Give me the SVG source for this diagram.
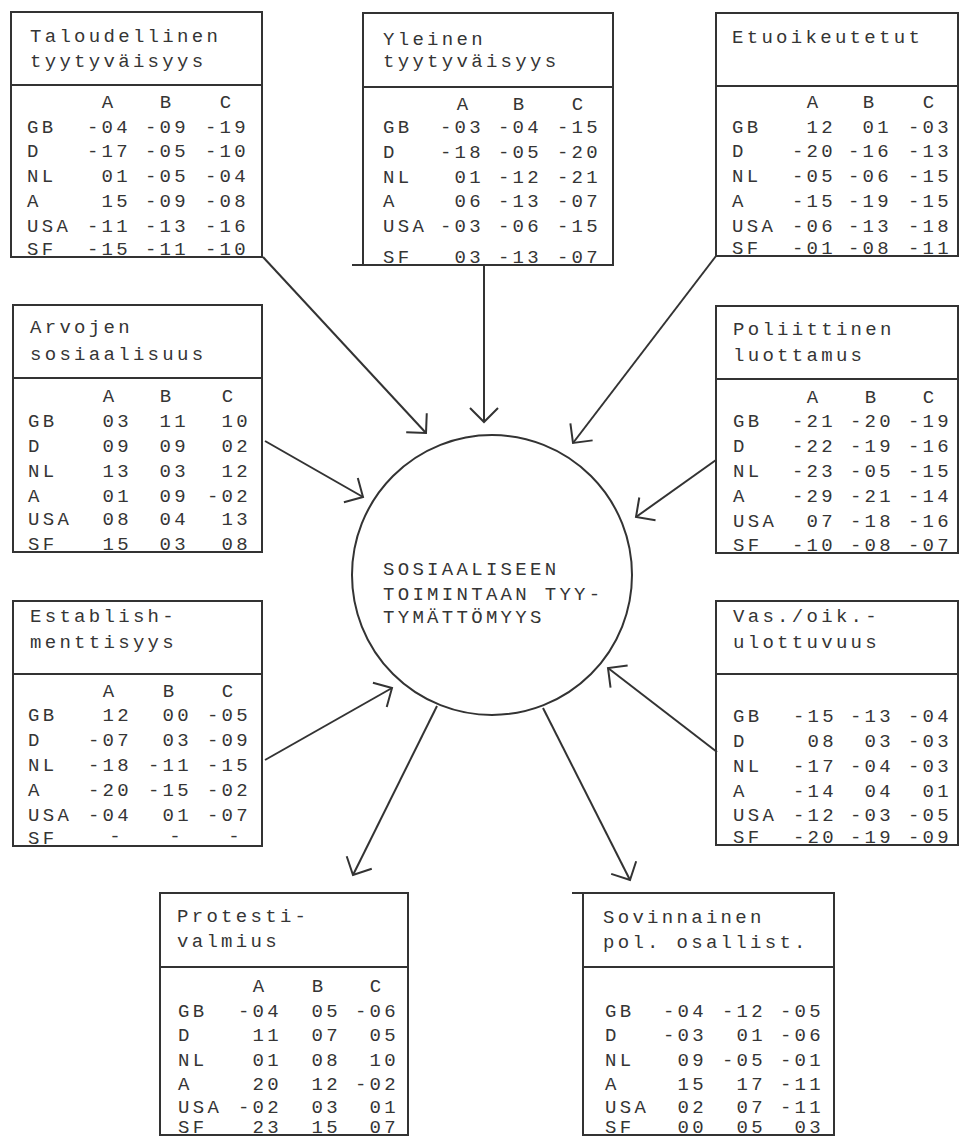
<svg xmlns="http://www.w3.org/2000/svg" width="961" height="1137" viewBox="0 0 961 1137">
<style>
.b{fill:none;stroke:#333;stroke-width:2}
.t{font-family:"Liberation Mono",monospace;font-size:19px;letter-spacing:3.3px;fill:#353535}
.n{text-anchor:end}
.h{text-anchor:middle}
.c{fill:none;stroke:#333;stroke-width:2;marker-end:url(#ah)}
</style>
<defs>
<marker id="ah" markerUnits="userSpaceOnUse" viewBox="-16 -16 18 32" markerWidth="18" markerHeight="32" refX="0" refY="0" orient="auto" overflow="visible">
<path d="M-14,-14 L0,0 L-14,14" fill="none" stroke="#333" stroke-width="2"/>
</marker>
</defs>

<g id="connectors">
<path class="c" d="M263,257 L426,433"/>
<path class="c" d="M484,265 L484,422"/>
<path class="c" d="M716,256 L573,443"/>
<path class="c" d="M265,441 L363,497"/>
<path class="c" d="M716,460 L636,517"/>
<path class="c" d="M265,760 L392,688"/>
<path class="c" d="M717,752 L608,668"/>
<path class="c" d="M437,706 L353,875"/>
<path class="c" d="M543,708 L630,880"/>
</g>

<g id="center">
<circle class="b" cx="492" cy="575" r="140"/>
<text class="t" x="383" y="575">SOSIAALISEEN</text>
<text class="t" x="383" y="600">TOIMINTAAN TYY-</text>
<text class="t" x="383" y="623">TYMÄTTÖMYYS</text>
</g>

<g id="taloudellinen" transform="translate(11,12)">
<rect class="b" x="0" y="0" width="251" height="245"/>
<line class="b" x1="0" y1="73" x2="251" y2="73"/>
<text class="t" x="19" y="30">Taloudellinen</text>
<text class="t" x="19" y="55">tyytyväisyys</text>
<text class="t h" x="98" y="96">A</text><text class="t h" x="156" y="96">B</text><text class="t h" x="216" y="96">C</text>
<text class="t" x="16" y="121">GB</text><text class="t n" x="120" y="121">-04</text><text class="t n" x="178" y="121">-09</text><text class="t n" x="238" y="121">-19</text>
<text class="t" x="16" y="145">D</text><text class="t n" x="120" y="145">-17</text><text class="t n" x="178" y="145">-05</text><text class="t n" x="238" y="145">-10</text>
<text class="t" x="16" y="170">NL</text><text class="t n" x="120" y="170">01</text><text class="t n" x="178" y="170">-05</text><text class="t n" x="238" y="170">-04</text>
<text class="t" x="16" y="195">A</text><text class="t n" x="120" y="195">15</text><text class="t n" x="178" y="195">-09</text><text class="t n" x="238" y="195">-08</text>
<text class="t" x="16" y="220">USA</text><text class="t n" x="120" y="220">-11</text><text class="t n" x="178" y="220">-13</text><text class="t n" x="238" y="220">-16</text>
<text class="t" x="16" y="243">SF</text><text class="t n" x="120" y="243">-15</text><text class="t n" x="178" y="243">-11</text><text class="t n" x="238" y="243">-10</text>
</g>

<g id="yleinen" transform="translate(363,13)">
<rect class="b" x="0" y="0" width="250" height="252"/>
<line class="b" x1="0" y1="74" x2="250" y2="74"/>
<line class="b" x1="-11" y1="252" x2="0" y2="252"/>
<text class="t" x="20" y="32">Yleinen</text>
<text class="t" x="20" y="54">tyytyväisyys</text>
<text class="t h" x="101" y="97">A</text><text class="t h" x="157" y="97">B</text><text class="t h" x="216" y="97">C</text>
<text class="t" x="20" y="120">GB</text><text class="t n" x="121" y="120">-03</text><text class="t n" x="179" y="120">-04</text><text class="t n" x="238" y="120">-15</text>
<text class="t" x="20" y="145">D</text><text class="t n" x="121" y="145">-18</text><text class="t n" x="179" y="145">-05</text><text class="t n" x="238" y="145">-20</text>
<text class="t" x="20" y="170">NL</text><text class="t n" x="121" y="170">01</text><text class="t n" x="179" y="170">-12</text><text class="t n" x="238" y="170">-21</text>
<text class="t" x="20" y="194">A</text><text class="t n" x="121" y="194">06</text><text class="t n" x="179" y="194">-13</text><text class="t n" x="238" y="194">-07</text>
<text class="t" x="20" y="219">USA</text><text class="t n" x="121" y="219">-03</text><text class="t n" x="179" y="219">-06</text><text class="t n" x="238" y="219">-15</text>
<text class="t" x="20" y="250">SF</text><text class="t n" x="121" y="250">03</text><text class="t n" x="179" y="250">-13</text><text class="t n" x="238" y="250">-07</text>
</g>

<g id="etuoikeutetut" transform="translate(716,13)">
<rect class="b" x="0" y="0" width="242" height="243"/>
<line class="b" x1="0" y1="73" x2="242" y2="73"/>
<text class="t" x="16" y="30">Etuoikeutetut</text>
<text class="t h" x="98" y="95">A</text><text class="t h" x="154" y="95">B</text><text class="t h" x="214" y="95">C</text>
<text class="t" x="16" y="120">GB</text><text class="t n" x="120" y="120">12</text><text class="t n" x="176" y="120">01</text><text class="t n" x="236" y="120">-03</text>
<text class="t" x="16" y="144">D</text><text class="t n" x="120" y="144">-20</text><text class="t n" x="176" y="144">-16</text><text class="t n" x="236" y="144">-13</text>
<text class="t" x="16" y="169">NL</text><text class="t n" x="120" y="169">-05</text><text class="t n" x="176" y="169">-06</text><text class="t n" x="236" y="169">-15</text>
<text class="t" x="16" y="194">A</text><text class="t n" x="120" y="194">-15</text><text class="t n" x="176" y="194">-19</text><text class="t n" x="236" y="194">-15</text>
<text class="t" x="16" y="219">USA</text><text class="t n" x="120" y="219">-06</text><text class="t n" x="176" y="219">-13</text><text class="t n" x="236" y="219">-18</text>
<text class="t" x="16" y="241">SF</text><text class="t n" x="120" y="241">-01</text><text class="t n" x="176" y="241">-08</text><text class="t n" x="236" y="241">-11</text>
</g>

<g id="arvojen" transform="translate(13,305)">
<rect class="b" x="0" y="0" width="249" height="247"/>
<line class="b" x1="0" y1="73" x2="249" y2="73"/>
<text class="t" x="17" y="28">Arvojen</text>
<text class="t" x="17" y="55">sosiaalisuus</text>
<text class="t h" x="97" y="97">A</text><text class="t h" x="154" y="97">B</text><text class="t h" x="216" y="97">C</text>
<text class="t" x="15" y="122">GB</text><text class="t n" x="119" y="122">03</text><text class="t n" x="176" y="122">11</text><text class="t n" x="238" y="122">10</text>
<text class="t" x="15" y="147">D</text><text class="t n" x="119" y="147">09</text><text class="t n" x="176" y="147">09</text><text class="t n" x="238" y="147">02</text>
<text class="t" x="15" y="172">NL</text><text class="t n" x="119" y="172">13</text><text class="t n" x="176" y="172">03</text><text class="t n" x="238" y="172">12</text>
<text class="t" x="15" y="197">A</text><text class="t n" x="119" y="197">01</text><text class="t n" x="176" y="197">09</text><text class="t n" x="238" y="197">-02</text>
<text class="t" x="15" y="220">USA</text><text class="t n" x="119" y="220">08</text><text class="t n" x="176" y="220">04</text><text class="t n" x="238" y="220">13</text>
<text class="t" x="15" y="245">SF</text><text class="t n" x="119" y="245">15</text><text class="t n" x="176" y="245">03</text><text class="t n" x="238" y="245">08</text>
</g>

<g id="poliittinen" transform="translate(716,306)">
<rect class="b" x="0" y="0" width="242" height="247"/>
<line class="b" x1="0" y1="73" x2="242" y2="73"/>
<text class="t" x="17" y="29">Poliittinen</text>
<text class="t" x="17" y="55">luottamus</text>
<text class="t h" x="98" y="97">A</text><text class="t h" x="156" y="97">B</text><text class="t h" x="214" y="97">C</text>
<text class="t" x="17" y="121">GB</text><text class="t n" x="120" y="121">-21</text><text class="t n" x="178" y="121">-20</text><text class="t n" x="236" y="121">-19</text>
<text class="t" x="17" y="146">D</text><text class="t n" x="120" y="146">-22</text><text class="t n" x="178" y="146">-19</text><text class="t n" x="236" y="146">-16</text>
<text class="t" x="17" y="171">NL</text><text class="t n" x="120" y="171">-23</text><text class="t n" x="178" y="171">-05</text><text class="t n" x="236" y="171">-15</text>
<text class="t" x="17" y="196">A</text><text class="t n" x="120" y="196">-29</text><text class="t n" x="178" y="196">-21</text><text class="t n" x="236" y="196">-14</text>
<text class="t" x="17" y="221">USA</text><text class="t n" x="120" y="221">07</text><text class="t n" x="178" y="221">-18</text><text class="t n" x="236" y="221">-16</text>
<text class="t" x="17" y="245">SF</text><text class="t n" x="120" y="245">-10</text><text class="t n" x="178" y="245">-08</text><text class="t n" x="236" y="245">-07</text>
</g>

<g id="establishmenttisyys" transform="translate(13,601)">
<rect class="b" x="0" y="0" width="249" height="245"/>
<line class="b" x1="0" y1="73" x2="249" y2="73"/>
<text class="t" x="17" y="21">Establish-</text>
<text class="t" x="17" y="47">menttisyys</text>
<text class="t h" x="97" y="96">A</text><text class="t h" x="157" y="96">B</text><text class="t h" x="216" y="96">C</text>
<text class="t" x="15" y="120">GB</text><text class="t n" x="119" y="120">12</text><text class="t n" x="179" y="120">00</text><text class="t n" x="238" y="120">-05</text>
<text class="t" x="15" y="145">D</text><text class="t n" x="119" y="145">-07</text><text class="t n" x="179" y="145">03</text><text class="t n" x="238" y="145">-09</text>
<text class="t" x="15" y="170">NL</text><text class="t n" x="119" y="170">-18</text><text class="t n" x="179" y="170">-11</text><text class="t n" x="238" y="170">-15</text>
<text class="t" x="15" y="195">A</text><text class="t n" x="119" y="195">-20</text><text class="t n" x="179" y="195">-15</text><text class="t n" x="238" y="195">-02</text>
<text class="t" x="15" y="220">USA</text><text class="t n" x="119" y="220">-04</text><text class="t n" x="179" y="220">01</text><text class="t n" x="238" y="220">-07</text>
<text class="t" x="15" y="243">SF</text><text class="t n" x="111" y="241">-</text><text class="t n" x="171" y="241">-</text><text class="t n" x="230" y="241">-</text>
</g>

<g id="vasoik" transform="translate(716,601)">
<rect class="b" x="0" y="0" width="242" height="244"/>
<line class="b" x1="0" y1="73" x2="242" y2="73"/>
<text class="t" x="17" y="21">Vas./oik.-</text>
<text class="t" x="17" y="47">ulottuvuus</text>
<text class="t" x="17" y="121">GB</text><text class="t n" x="121" y="121">-15</text><text class="t n" x="178" y="121">-13</text><text class="t n" x="236" y="121">-04</text>
<text class="t" x="17" y="146">D</text><text class="t n" x="121" y="146">08</text><text class="t n" x="178" y="146">03</text><text class="t n" x="236" y="146">-03</text>
<text class="t" x="17" y="171">NL</text><text class="t n" x="121" y="171">-17</text><text class="t n" x="178" y="171">-04</text><text class="t n" x="236" y="171">-03</text>
<text class="t" x="17" y="196">A</text><text class="t n" x="121" y="196">-14</text><text class="t n" x="178" y="196">04</text><text class="t n" x="236" y="196">01</text>
<text class="t" x="17" y="220">USA</text><text class="t n" x="121" y="220">-12</text><text class="t n" x="178" y="220">-03</text><text class="t n" x="236" y="220">-05</text>
<text class="t" x="17" y="242">SF</text><text class="t n" x="121" y="242">-20</text><text class="t n" x="178" y="242">-19</text><text class="t n" x="236" y="242">-09</text>
</g>

<g id="protestivalmius" transform="translate(160,893)">
<rect class="b" x="0" y="0" width="248" height="242"/>
<line class="b" x1="0" y1="74" x2="248" y2="74"/>
<text class="t" x="17" y="29">Protesti-</text>
<text class="t" x="17" y="54">valmius</text>
<text class="t h" x="100" y="99">A</text><text class="t h" x="159" y="99">B</text><text class="t h" x="217" y="99">C</text>
<text class="t" x="18" y="124">GB</text><text class="t n" x="122" y="124">-04</text><text class="t n" x="181" y="124">05</text><text class="t n" x="239" y="124">-06</text>
<text class="t" x="18" y="148">D</text><text class="t n" x="122" y="148">11</text><text class="t n" x="181" y="148">07</text><text class="t n" x="239" y="148">05</text>
<text class="t" x="18" y="173">NL</text><text class="t n" x="122" y="173">01</text><text class="t n" x="181" y="173">08</text><text class="t n" x="239" y="173">10</text>
<text class="t" x="18" y="197">A</text><text class="t n" x="122" y="197">20</text><text class="t n" x="181" y="197">12</text><text class="t n" x="239" y="197">-02</text>
<text class="t" x="18" y="220">USA</text><text class="t n" x="122" y="220">-02</text><text class="t n" x="181" y="220">03</text><text class="t n" x="239" y="220">01</text>
<text class="t" x="18" y="240">SF</text><text class="t n" x="122" y="240">23</text><text class="t n" x="181" y="240">15</text><text class="t n" x="239" y="240">07</text>
</g>

<g id="sovinnainen" transform="translate(583,893)">
<rect class="b" x="0" y="0" width="251" height="242"/>
<line class="b" x1="0" y1="74" x2="251" y2="74"/>
<line class="b" x1="-11" y1="0" x2="0" y2="0"/>
<text class="t" x="20" y="30">Sovinnainen</text>
<text class="t" x="20" y="55">pol. osallist.</text>
<text class="t" x="22" y="124">GB</text><text class="t n" x="124" y="124">-04</text><text class="t n" x="183" y="124">-12</text><text class="t n" x="241" y="124">-05</text>
<text class="t" x="22" y="148">D</text><text class="t n" x="124" y="148">-03</text><text class="t n" x="183" y="148">01</text><text class="t n" x="241" y="148">-06</text>
<text class="t" x="22" y="173">NL</text><text class="t n" x="124" y="173">09</text><text class="t n" x="183" y="173">-05</text><text class="t n" x="241" y="173">-01</text>
<text class="t" x="22" y="197">A</text><text class="t n" x="124" y="197">15</text><text class="t n" x="183" y="197">17</text><text class="t n" x="241" y="197">-11</text>
<text class="t" x="22" y="220">USA</text><text class="t n" x="124" y="220">02</text><text class="t n" x="183" y="220">07</text><text class="t n" x="241" y="220">-11</text>
<text class="t" x="22" y="240">SF</text><text class="t n" x="124" y="240">00</text><text class="t n" x="183" y="240">05</text><text class="t n" x="241" y="240">03</text>
</g>
</svg>
